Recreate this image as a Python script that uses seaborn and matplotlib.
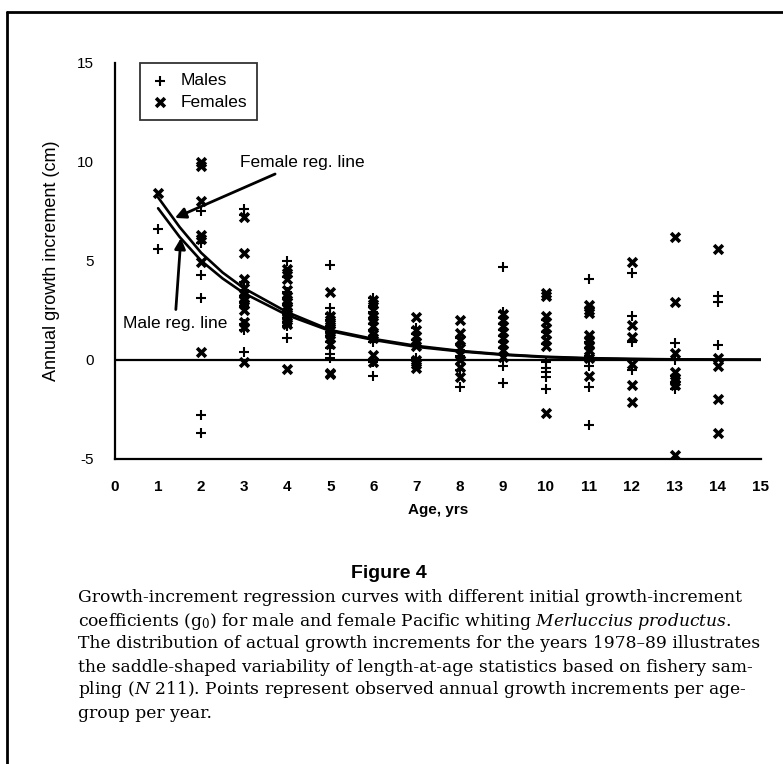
import numpy as np
import pandas as pd
import matplotlib
matplotlib.use("Agg")
import matplotlib.pyplot as plt
from matplotlib.lines import Line2D
import seaborn as sns

# ---------------- data ----------------
male_age = ([1] * 2 + [2] * 6 + [3] * 10 + [4] * 11 + [5] * 11 + [6] * 10 + [7] * 5
            + [8] * 6 + [9] * 11 + [10] * 8 + [11] * 7 + [12] * 4 + [13] * 5 + [14] * 3)
male_inc = [6.6, 5.6,
            7.5, 5.9, 4.3, 3.1, -2.8, -3.7,
            7.6, 7.3, 3.9, 3.5, 3.2, 2.9, 2.7, 1.8, 1.5, 0.4,
            5.0, 4.2, 3.4, 3.1, 2.8, 2.5, 2.3, 2.1, 1.9, 1.7, 1.1,
            4.8, 2.6, 2.3, 2.0, 1.7, 1.4, 1.2, 0.9, 0.6, 0.3, 0.1,
            3.1, 2.7, 2.4, 2.1, 1.8, 1.5, 1.2, 0.9, -0.1, -0.8,
            1.6, 1.3, 1.0, 0.8, 0.1,
            1.1, 0.8, 0.5, 0.2, -0.5, -1.36,
            4.67, 2.4, 2.1, 1.8, 1.5, 1.2, 0.9, 0.6, 0.3, -0.3, -1.2,
            2.0, 1.4, 0.8, -0.1, -0.4, -0.6, -0.85, -1.5,
            4.06, 0.9, 0.6, 0.2, -0.3, -1.36, -3.3,
            4.4, 2.2, 0.9, -0.5,
            0.83, 0.0, -0.8, -1.2, -1.5,
            3.2, 2.9, 0.74]

female_age = ([1] * 1 + [2] * 7 + [3] * 12 + [4] * 14 + [5] * 11 + [6] * 10 + [7] * 8
              + [8] * 8 + [9] * 8 + [10] * 9 + [11] * 9 + [12] * 6 + [13] * 8 + [14] * 5)
female_inc = [8.4,
              10.0, 9.8, 8.0, 6.3, 6.1, 4.95, 0.37,
              7.2, 5.4, 4.1, 3.6, 3.3, 3.1, 3.0, 2.8, 2.5, 1.9, 1.65, -0.1,
              4.6, 4.4, 4.1, 3.5, 3.2, 3.0, 2.9, 2.7, 2.6, 2.4, 2.2, 2.0, 1.8, -0.45,
              3.4, 2.2, 2.0, 1.8, 1.6, 1.5, 1.3, 1.1, 0.8, -0.65, -0.7,
              3.0, 2.8, 2.5, 2.2, 2.0, 1.7, 1.3, 1.1, 0.24, -0.1,
              2.14, 1.5, 1.2, 0.9, 0.7, 0.0, -0.2, -0.4,
              2.0, 1.35, 1.0, 0.6, 0.3, 0.0, -0.35, -0.86,
              2.3, 2.0, 1.7, 1.4, 1.1, 0.8, 0.5, 0.15,
              3.35, 3.2, 2.2, 1.9, 1.6, 1.3, 1.0, 0.7, -2.7,
              2.76, 2.5, 2.34, 1.25, 1.0, 0.75, 0.5, 0.07, -0.8,
              4.95, 1.75, 1.16, -0.24, -1.3, -2.15,
              6.2, 2.9, 0.32, -0.6, -0.9, -1.1, -1.3, -4.8,
              5.6, 0.07, -0.3, -2.0, -3.7]

line_age = [1.0, 1.5, 2.0, 2.5, 3.0, 4.0, 5.0, 6.0, 7.0, 8.0, 9.0, 10.0, 11.0, 12.0, 13.0, 14.0, 15.0]
female_line = [8.2, 6.7, 5.4, 4.4, 3.6, 2.4, 1.5, 1.05, 0.7, 0.45, 0.27, 0.15, 0.08, 0.04, 0.02, 0.01, 0.0]
male_line = [7.65, 6.2, 5.0, 4.1, 3.35, 2.25, 1.45, 1.0, 0.65, 0.42, 0.25, 0.13, 0.06, 0.03, 0.01, 0.0, 0.0]

x_ticks = list(range(0, 16))
y_ticks = [-5, 0, 5, 10, 15]

caption_title = "Figure 4"
caption_lines = [
    "Growth-increment regression curves with different initial growth-increment",
    r"coefficients (g$_0$) for male and female Pacific whiting $\it{Merluccius\ productus}$.",
    "The distribution of actual growth increments for the years 1978\u201389 illustrates",
    "the saddle-shaped variability of length-at-age statistics based on fishery sam-",
    r"pling ($\it{N}$ 211). Points represent observed annual growth increments per age-",
    "group per year.",
]

# ---------------- figure ----------------
sns.set_theme(style="white")
plt.rcParams["font.family"] = ["Liberation Sans", "DejaVu Sans"]
plt.rcParams["mathtext.fontset"] = "custom"
plt.rcParams["mathtext.rm"] = "DejaVu Serif"
plt.rcParams["mathtext.it"] = "DejaVu Serif:italic"
plt.rcParams["axes.unicode_minus"] = False
for k in ["text.color", "axes.labelcolor", "xtick.color", "ytick.color", "axes.edgecolor"]:
    plt.rcParams[k] = "black"

fig = plt.figure(figsize=(7.83, 7.64), dpi=100)
ax = fig.add_axes([0.1469, 0.3996, 0.825, 0.5183])

males = pd.DataFrame({"age": male_age, "inc": male_inc})
females = pd.DataFrame({"age": female_age, "inc": female_inc})

sns.scatterplot(data=males, x="age", y="inc", marker="+", s=60, color="black",
                linewidth=1.5, ax=ax, label="Males", zorder=3)
sns.scatterplot(data=females, x="age", y="inc", marker="x", s=40, color="black",
                linewidth=2.6, ax=ax, label="Females", zorder=3)

sns.lineplot(x=line_age, y=female_line, color="black", lw=1.9, ax=ax, zorder=4)
sns.lineplot(x=line_age, y=male_line, color="black", lw=1.9, ax=ax, zorder=4)
ax.axhline(0, color="black", lw=1.6, zorder=2)

ax.set_xlim(0, 15)
ax.set_ylim(-5, 15)
ax.set_xticks(x_ticks)
ax.set_yticks(y_ticks)
for s in ["top", "right"]:
    ax.spines[s].set_visible(False)
for s in ["left", "bottom"]:
    ax.spines[s].set_color("black")
    ax.spines[s].set_linewidth(1.6)
ax.tick_params(axis="x", direction="inout", length=9, width=1.4, pad=11, labelsize=11)
ax.tick_params(axis="y", direction="inout", length=9, width=1.4, pad=11, labelsize=11)
for t in ax.get_xticklabels():
    t.set_fontweight("bold")

ax.set_xlabel("Age, yrs", fontsize=11, fontweight="bold", labelpad=6)
ax.set_ylabel("Annual growth increment (cm)", fontsize=13, labelpad=12)

leg = ax.legend(loc="upper left", bbox_to_anchor=(0.039, 1.0), borderaxespad=0,
                frameon=True, fancybox=False, edgecolor="black", fontsize=12.5,
                handletextpad=0.6, borderpad=0.6, labelspacing=0.35, handlelength=1.1)
leg.get_frame().set_linewidth(1.3)

arrow = dict(arrowstyle="-|>", color="black", lw=2.0, mutation_scale=16,
             shrinkA=2, shrinkB=0)
ax.annotate("Female reg. line", xy=(1.39, 7.16), xytext=(2.9, 9.98),
            fontsize=12.5, va="center", ha="left", arrowprops=arrow)
ax.annotate("Male reg. line", xy=(1.53, 6.15), xytext=(1.39, 1.85),
            fontsize=12.5, va="center", ha="center", arrowprops=arrow)

# caption
fig.text(0.497, 1 - 573 / 764, caption_title, ha="center", va="center",
         fontsize=14, fontweight="bold")
for i, line in enumerate(caption_lines):
    fig.text(78 / 783, 1 - (598 + 23 * i) / 764, line, ha="left", va="center",
             fontsize=12.3, family="DejaVu Serif")

# outer frame (left and top)
fig.add_artist(Line2D([0.009, 0.009], [0.0, 0.984], transform=fig.transFigure,
                      color="black", lw=2))
fig.add_artist(Line2D([0.009, 1.0], [0.984, 0.984], transform=fig.transFigure,
                      color="black", lw=2))

fig.savefig("out.png", dpi=100)
